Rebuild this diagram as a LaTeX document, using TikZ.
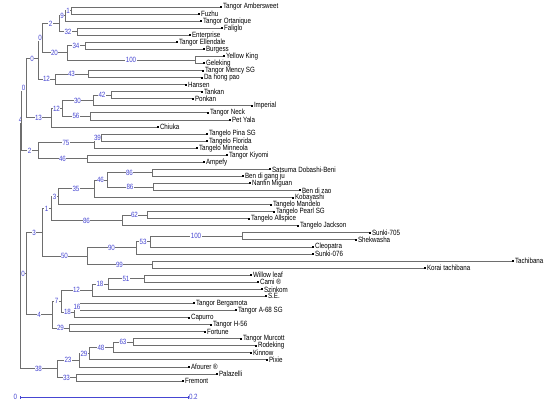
\documentclass[tikz,border=0pt]{standalone}
\usepackage{fontspec}
\newfontfamily\treefont{Liberation Sans}[FakeStretch=0.82]
\definecolor{bsblue}{RGB}{70,70,210}
\definecolor{brgray}{RGB}{110,110,110}
\begin{document}
\begin{tikzpicture}[x=1pt,y=-1pt,
  br/.style={draw=brgray, line width=0.8pt},
  bs/.style={pos=0.75, fill=white, text=bsblue, inner sep=0.4pt, font={\treefont\fontsize{7.6}{8}\selectfont}},
  tip/.style={fill=black, inner sep=0pt, minimum size=2pt, draw=none},
  lname/.style={font={\treefont\fontsize{7.6}{8}\selectfont}, inner sep=0.6pt, text=black},
  sbl/.style={font={\treefont\fontsize{7.6}{8}\selectfont}, inner sep=0.8pt, text=bsblue}
]
\useasboundingbox (0,0) rectangle (550,405);
\fill[white] (0,0) rectangle (550,405);
% leaves
\foreach \i/\x/\y/\t in {
 1/221/7.00/Tangor Ambersweet, 2/199/14.06/Fuzhu, 3/201/21.11/Tangor Ortanique,
 4/222/28.17/Faliglo, 5/190/35.23/Enterprise, 6/177/42.29/Tangor Ellendale,
 7/204/49.34/Burgess, 8/224/56.40/Yellow King, 9/204/63.46/Geleking,
 10/203/70.51/Tangor Mency SG, 11/202/77.57/Da hong pao, 12/186/84.63/Hansen,
 13/202/91.68/Tankan, 14/193/98.74/Ponkan, 15/252/105.80/Imperial,
 16/208/112.86/Tangor Neck, 17/230/119.91/Pet Yala, 18/158/126.97/Chiuka,
 19/207/134.03/Tangelo Pina SG, 20/207/141.08/Tangelo Florida, 21/197/148.14/Tangelo Minneola,
 22/227/155.20/Tangor Kiyomi, 23/204/162.25/Ampefy, 24/270/169.31/Satsuma Dobashi-Beni,
 25/243/176.37/Ben di gang ju, 26/250/183.43/Nanfin Miguan, 27/300/190.48/Ben di zao,
 28/293/197.54/Kobayashi, 29/271/204.60/Tangelo Mandelo, 30/274/211.65/Tangelo Pearl SG,
 31/249/218.71/Tangelo Allspice, 32/298/225.77/Tangelo Jackson, 33/370/232.82/Sunki-705,
 34/356/239.88/Shekwasha, 35/313/246.94/Cleopatra, 36/313/254.00/Sunki-076,
 37/513/261.05/Tachibana, 38/425/268.11/Korai tachibana, 39/251/275.17/Willow leaf,
 40/258/282.22/Cami ®, 41/262/289.28/Szinkom, 42/266/296.34/S.E.,
 43/194/303.39/Tangor Bergamota, 44/236/310.45/Tangor A-68 SG, 45/189/317.51/Capurro,
 46/211/324.57/Tangor H-56, 47/205/331.62/Fortune, 48/241/338.68/Tangor Murcott,
 49/256/345.74/Rodeking, 50/251/352.79/Kinnow, 51/267/359.85/Pixie,
 52/189/366.91/Afourer ®, 53/217/373.96/Palazelli, 54/183/381.02/Fremont}
 {\node[tip, label={[lname]right:\t}] (l\i) at (\x,\y) {};}
% internal nodes
\coordinate (nAF) at (71,10.53);
\coordinate (n9) at (65,15.82);
\coordinate (n32) at (77,31.70);
\coordinate (n2a) at (59,23.76);
\coordinate (n34) at (85,45.82);
\coordinate (n100a) at (195,59.93);
\coordinate (n20) at (67,52.87);
\coordinate (n0a) at (42,38.32);
\coordinate (n43) at (88,74.04);
\coordinate (n12a) at (55,79.33);
\coordinate (n0b) at (38,58.83);
\coordinate (n42) at (111,95.21);
\coordinate (n30) at (93,100.50);
\coordinate (n56) at (90,116.38);
\coordinate (n12b) at (62,108.44);
\coordinate (n13) at (51,117.70);
\coordinate (n0c) at (26,88.27);
\coordinate (n39) at (101,137.55);
\coordinate (n75) at (94,142.85);
\coordinate (n46a) at (87,158.72);
\coordinate (n2b) at (38,150.78);
\coordinate (n4a) at (21,119.53);
\coordinate (n86a) at (152,172.84);
\coordinate (n86b) at (153,186.95);
\coordinate (n46b) at (107,179.90);
\coordinate (n35) at (94,188.72);
\coordinate (n3a) at (58,196.66);
\coordinate (n62) at (147,215.18);
\coordinate (n86c) at (122,220.47);
\coordinate (n1) at (51,208.57);
\coordinate (n100b) at (242,236.35);
\coordinate (n53) at (150,241.64);
\coordinate (n90) at (136,247.82);
\coordinate (n99) at (152,264.58);
\coordinate (n50) at (87,256.20);
\coordinate (n3b) at (42,232.39);
\coordinate (n51) at (144,278.70);
\coordinate (n18a) at (108,283.99);
\coordinate (n12c) at (92,290.16);
\coordinate (n16) at (80,306.92);
\coordinate (n18b) at (74,312.22);
\coordinate (n7) at (61,301.19);
\coordinate (n29a) at (69,328.10);
\coordinate (n4b) at (52,314.64);
\coordinate (n0d) at (26,273.52);
\coordinate (n63) at (133,342.21);
\coordinate (n48) at (113,347.50);
\coordinate (n29b) at (89,353.68);
\coordinate (n23) at (79,360.29);
\coordinate (n33) at (76,377.49);
\coordinate (n38) at (57,368.89);
\coordinate (root) at (20,244.21);
% leaf branches
\foreach \p/\c in {nAF/l1,nAF/l2,n9/l3,n32/l4,n32/l5,n34/l6,n34/l7,n100a/l8,n100a/l9,
 n43/l10,n43/l11,n12a/l12,n42/l13,n42/l14,n30/l15,n56/l16,n56/l17,n13/l18,
 n39/l19,n39/l20,n75/l21,n46a/l22,n46a/l23,n86a/l24,n86a/l25,n86b/l26,n86b/l27,
 n35/l28,n3a/l29,n62/l30,n62/l31,n86c/l32,n100b/l33,n100b/l34,n53/l35,n90/l36,
 n99/l37,n99/l38,n51/l39,n51/l40,n18a/l41,n12c/l42,n16/l43,n16/l44,n18b/l45,
 n29a/l46,n29a/l47,n63/l48,n63/l49,n48/l50,n29b/l51,n23/l52,n33/l53,n33/l54}
 {\draw[br] (\p) |- (\c);}
% internal branches with support values
\foreach \p/\c/\v in {root/n4a/4,root/n0d/0,root/n38/38,
 n4a/n0c/0,n4a/n2b/2,n0c/n0b/0,n0c/n13/13,n0b/n0a/0,n0b/n12a/12,
 n0a/n2a/2,n0a/n20/20,n2a/n9/9,n2a/n32/32,n9/nAF/1,
 n20/n34/34,n20/n100a/100,n12a/n43/43,n13/n12b/12,n12b/n30/30,n12b/n56/56,
 n30/n42/42,n2b/n75/75,n2b/n46a/46,n75/n39/39,
 n0d/n3b/3,n0d/n4b/4,n3b/n1/1,n3b/n50/50,n1/n3a/3,n1/n86c/86,
 n3a/n35/35,n35/n46b/46,n46b/n86a/86,n46b/n86b/86,n86c/n62/62,
 n50/n90/90,n50/n99/99,n90/n53/53,n53/n100b/100,
 n4b/n7/7,n4b/n29a/29,n7/n12c/12,n7/n18b/18,n12c/n18a/18,n18a/n51/51,n18b/n16/16,
 n38/n23/23,n38/n33/33,n23/n29b/29,n29b/n48/48,n48/n63/63}
 {\draw[br] (\p) |- (\c) node[bs] {\v};}
% scale bar
\coordinate (sb0) at (20,397);
\coordinate (sb1) at (188,397);
\draw[bsblue, line width=0.6pt] (sb0) -- (sb1);
\draw[bsblue, line width=0.6pt] ([yshift=-1.5pt]sb0) -- ([yshift=1.5pt]sb0);
\draw[bsblue, line width=0.6pt] ([yshift=-1.5pt]sb1) -- ([yshift=1.5pt]sb1);
\node[sbl, anchor=east] (sbt0) at ([xshift=-2pt]sb0) {0};
\node[sbl, anchor=west] (sbt1) at (sb1) {0.2};
\end{tikzpicture}
\end{document}
